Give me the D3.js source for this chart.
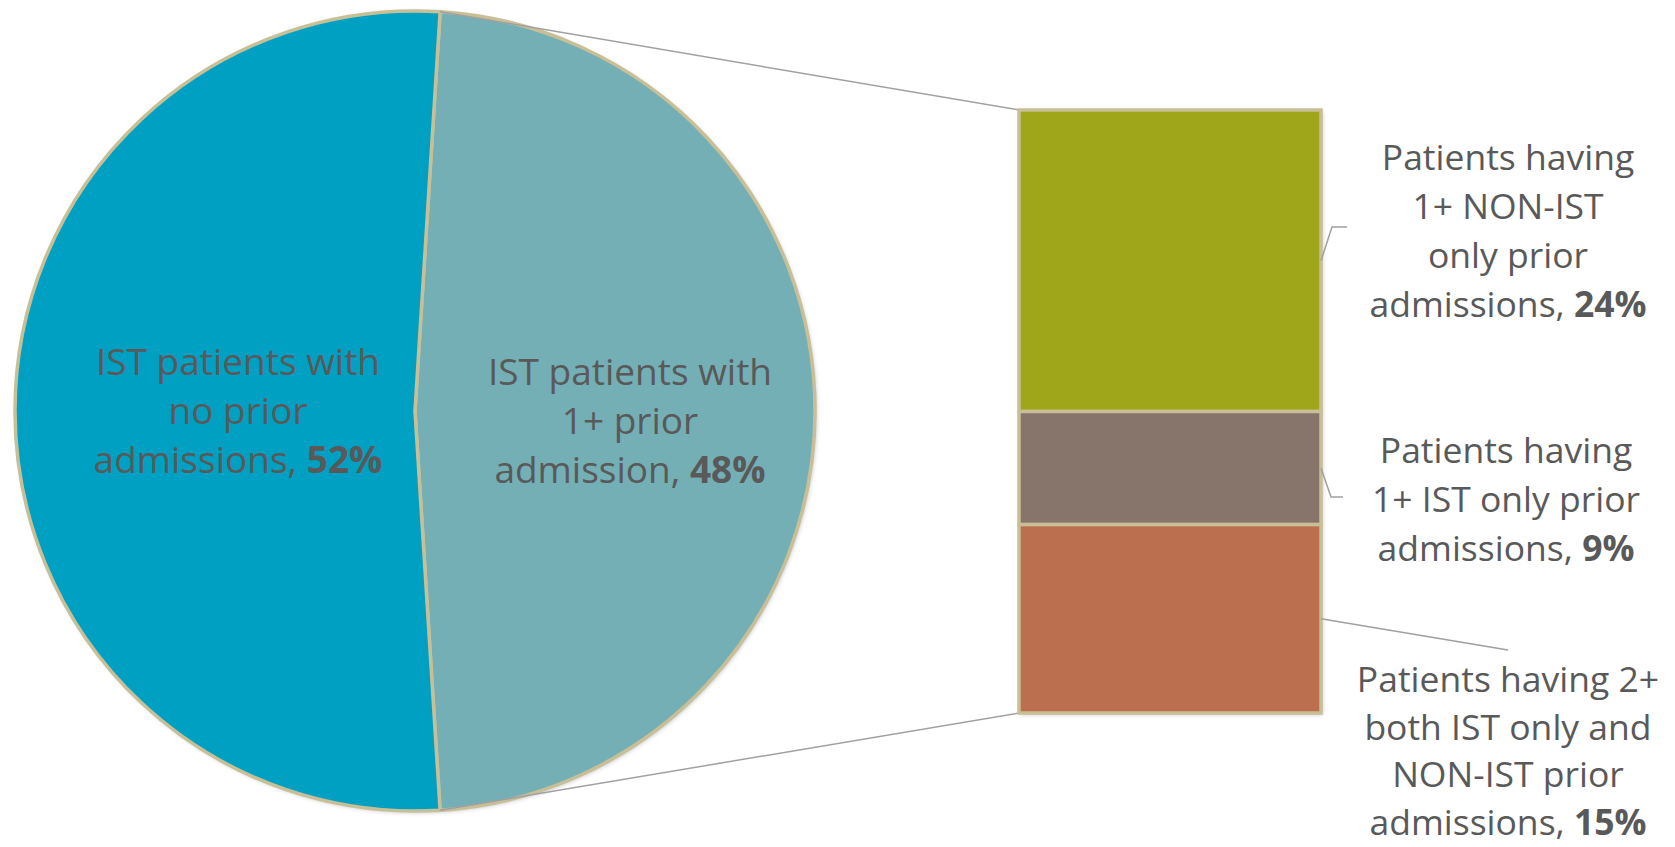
<!DOCTYPE html>
<html>
<head>
<meta charset="utf-8">
<script src="https://cdn.jsdelivr.net/npm/d3@7/dist/d3.min.js"></script>
<style>
  html, body { margin: 0; padding: 0; background: #ffffff; }
  svg { display: block; }
</style>
</head>
<body>
<svg id="chart" width="1675" height="847"></svg>
<script>
// ---- Data ----
const pieCategories = ["IST patients with 1+ prior admission", "IST patients with no prior admissions"];
const pieValues = [48, 52];
const pieLabelLines = [
  ["IST patients with", "1+ prior", "admission, "],
  ["IST patients with", "no prior", "admissions, "]
];
const pieLabelPct = ["48%", "52%"];

const barCategories = [
  "Patients having 1+ NON-IST only prior admissions",
  "Patients having 1+ IST only prior admissions",
  "Patients having 2+ both IST only and NON-IST prior admissions"
];
const barValues = [24, 9, 15];
const barLabelLines = [
  ["Patients having", "1+ NON-IST", "only prior", "admissions, "],
  ["Patients having", "1+ IST only prior", "admissions, "],
  ["Patients having 2+", "both IST only and", "NON-IST prior", "admissions, "]
];
const barLabelPct = ["24%", "9%", "15%"];

// ---- Styles ----
const pieColors = ["#74AFB6", "#00A0C3"];
const barColors = ["#9FA619", "#87756B", "#BC6F4F"];
const borderColor = "#C8BF97";
const textColor = "#595959";
const lineColor = "#A0A0A0";
const fontFamily = "'Open Sans', Lato, sans-serif";
const pieFontSize = 37;
const barFontSize = 35.5;

const svg = d3.select("#chart");

// ---- Pie ----
const cx = 415, cy = 411, R = 400;
const total = d3.sum(pieValues);
const otherFrac = pieValues[0] / total;
const startA = Math.PI / 2 - otherFrac * Math.PI;

const pie = d3.pie().sort(null).value(d => d)
  .startAngle(startA).endAngle(startA + 2 * Math.PI);
const arcs = pie(pieValues);
const arc = d3.arc().innerRadius(0).outerRadius(R);

const defs = svg.append("defs");
const filt = defs.append("filter").attr("id", "shadow").attr("x", "-5%").attr("y", "-5%").attr("width", "110%").attr("height", "110%");
filt.append("feDropShadow").attr("dx", 1.5).attr("dy", 1.5).attr("stdDeviation", 2).attr("flood-color", "#000").attr("flood-opacity", 0.25);

const gPie = svg.append("g").attr("transform", `translate(${cx},${cy})`);
gPie.append("circle").attr("r", R).attr("fill", "#fff").attr("filter", "url(#shadow)");
gPie.selectAll("path.slice").data(arcs).join("path")
  .attr("class", "slice")
  .attr("d", arc)
  .attr("fill", (d, i) => pieColors[i])
  .attr("stroke", borderColor)
  .attr("stroke-width", 3.5)
  .attr("stroke-linejoin", "round");

// pie labels
const pieLabelPos = [[630, 385], [238, 375]];
const pieLineH = 49;
pieLabelLines.forEach((lines, i) => {
  const t = svg.append("text")
    .attr("x", pieLabelPos[i][0]).attr("y", pieLabelPos[i][1])
    .attr("text-anchor", "middle")
    .attr("font-family", fontFamily).attr("font-size", pieFontSize)
    .attr("fill", textColor);
  lines.forEach((ln, j) => {
    t.append("tspan").attr("x", pieLabelPos[i][0]).attr("dy", j === 0 ? 0 : pieLineH).text(ln);
    if (j === lines.length - 1) {
      t.append("tspan").attr("font-weight", "bold").text(pieLabelPct[i]);
    }
  });
});

// ---- Bar (stacked) ----
const bx0 = 1019, bx1 = 1321;
const barTotal = d3.sum(barValues);
const y = d3.scaleLinear().domain([0, barTotal]).range([110, 713]);
let cum = 0;
const barData = barValues.map((v, i) => { const d = { i, v, y0: cum, y1: cum + v }; cum += v; return d; });

// connector lines
const aTop = arcs[0].startAngle, aBot = arcs[0].endAngle;
const ptTop = [cx + R * Math.sin(aTop), cy - R * Math.cos(aTop)];
const ptBot = [cx + R * Math.sin(aBot), cy - R * Math.cos(aBot)];
svg.append("line").attr("x1", ptTop[0]).attr("y1", ptTop[1]).attr("x2", bx0).attr("y2", y(0))
  .attr("stroke", lineColor).attr("stroke-width", 1.5);
svg.append("line").attr("x1", ptBot[0]).attr("y1", ptBot[1]).attr("x2", bx0).attr("y2", y(barTotal))
  .attr("stroke", lineColor).attr("stroke-width", 1.5);

svg.append("rect").attr("x", bx0).attr("y", y(0)).attr("width", bx1 - bx0).attr("height", y(barTotal) - y(0))
  .attr("fill", "#fff").attr("filter", "url(#shadow)");
svg.selectAll("rect.seg").data(barData).join("rect")
  .attr("class", "seg")
  .attr("x", bx0).attr("y", d => y(d.y0))
  .attr("width", bx1 - bx0).attr("height", d => y(d.y1) - y(d.y0))
  .attr("fill", d => barColors[d.i])
  .attr("stroke", borderColor).attr("stroke-width", 3.5);

// bar labels + leader lines
const barLabelPos = [[1508, 170], [1506, 463], [1508, 692]];
const barLineH = [49, 49, 47.5];
const leaderPts = [
  d => [[bx1, y((d.y0 + d.y1) / 2)], [1332, 227], [1347, 227]],
  d => [[bx1, y((d.y0 + d.y1) / 2)], [1331, 497], [1343, 497]],
  d => [[bx1, y((d.y0 + d.y1) / 2)], [1508, 650]]
];
barData.forEach((d, i) => {
  svg.append("path")
    .attr("d", d3.line()(leaderPts[i](d)))
    .attr("fill", "none").attr("stroke", lineColor).attr("stroke-width", 1.5);
  const t = svg.append("text")
    .attr("x", barLabelPos[i][0]).attr("y", barLabelPos[i][1])
    .attr("text-anchor", "middle")
    .attr("font-family", fontFamily).attr("font-size", barFontSize)
    .attr("fill", textColor);
  barLabelLines[i].forEach((ln, j) => {
    t.append("tspan").attr("x", barLabelPos[i][0]).attr("dy", j === 0 ? 0 : barLineH[i]).text(ln);
    if (j === barLabelLines[i].length - 1) {
      t.append("tspan").attr("font-weight", "bold").text(barLabelPct[i]);
    }
  });
});
</script>
</body>
</html>
